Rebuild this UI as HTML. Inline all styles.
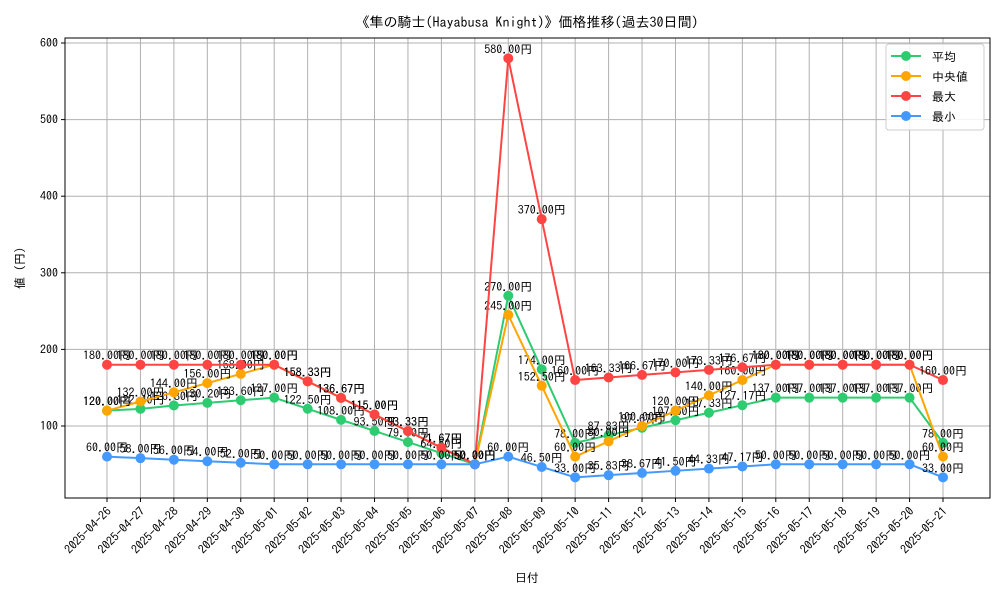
<!DOCTYPE html>
<html><head><meta charset="utf-8"><style>
body{margin:0;background:#fff;}
svg text{font-family:"IPAGothic","Noto Sans CJK JP",sans-serif;}
</style></head><body>
<svg id="chart" width="1000" height="600" viewBox="0 0 1000 600">
<rect width="1000" height="600" fill="#fff"/>
<text x="527" y="27" text-anchor="middle" font-size="14">《隼の騎士(Hayabusa Knight)》価格推移(過去30日間)</text>
<g id="grid"></g>
<rect x="65" y="38" width="925" height="460" fill="none" stroke="#000" stroke-width="1"/>
<g id="axes"></g>
<g id="series"></g>
<text x="527" y="582" text-anchor="middle" font-size="12">日付</text>
<text transform="translate(24,268) rotate(-90)" text-anchor="middle" font-size="12">値 (円)</text>
<g id="legend"></g>
</svg>
<script>
const dates=["2025-04-26","2025-04-27","2025-04-28","2025-04-29","2025-04-30","2025-05-01","2025-05-02","2025-05-03","2025-05-04","2025-05-05","2025-05-06","2025-05-07","2025-05-08","2025-05-09","2025-05-10","2025-05-11","2025-05-12","2025-05-13","2025-05-14","2025-05-15","2025-05-16","2025-05-17","2025-05-18","2025-05-19","2025-05-20","2025-05-21"];
const meanVals=[120,122.4,126.8,130.2,133.6,137,122.5,108,93.5,79,64.5,50,270,174,78,87.83,97.67,107.5,117.33,127.17,137,137,137,137,137,78];
const medianVals=[120,132,144,156,168,180,158.33,136.67,115,93.33,71.67,50,245,152.5,60,80,100,120,140,160,180,180,180,180,180,60];
const maxVals=[180,180,180,180,180,180,158.33,136.67,115,93.33,71.67,50,580,370,160,163.33,166.67,170,173.33,176.67,180,180,180,180,180,160];
const minVals=[60,58,56,54,52,50,50,50,50,50,50,50,60,46.5,33,35.83,38.67,41.5,44.33,47.17,50,50,50,50,50,33];
const yTicks=[100,200,300,400,500,600];
const seriesNames=["平均","中央値","最大","最小"];

const NS="http://www.w3.org/2000/svg";
function X(i){return 107+i*(943-107)/(dates.length-1);}
function Y(v){return 426-(v-100)*0.766;}
function mk(tag,attrs,parent){const e=document.createElementNS(NS,tag);for(const k in attrs)e.setAttribute(k,attrs[k]);parent.appendChild(e);return e;}
const grid=document.getElementById('grid'),axes=document.getElementById('axes'),ser=document.getElementById('series'),leg=document.getElementById('legend');
yTicks.forEach(t=>{
  const l=mk('line',{x1:65,x2:990,y1:Y(t),y2:Y(t),stroke:'#b0b0b0','stroke-width':1},grid);
  
  
  mk('line',{x1:61,x2:65,y1:Y(t),y2:Y(t),stroke:'#000'},axes);
  const tx=mk('text',{x:58,y:Y(t)+4,'text-anchor':'end','font-size':12},axes);
  tx.textContent=t;
  
  
});
dates.forEach((d,i)=>{
  const l=mk('line',{x1:X(i),x2:X(i),y1:38,y2:498,stroke:'#b0b0b0','stroke-width':1},grid);
  
  
  mk('line',{x1:X(i),x2:X(i),y1:498,y2:502,stroke:'#000'},axes);
  const tx=mk('text',{transform:`translate(${X(i)+5},${512}) rotate(-45)`,'text-anchor':'end','font-size':12},axes);
  tx.textContent=d;
  
  
});
const colors=['#2ecc71','#ffa500','#ff4444','#4499ff'];
const all=[meanVals,medianVals,maxVals,minVals];
const keys=['mean','median','max','min'];
all.forEach((vals,s)=>{
  const g=mk('g',{},ser);
  
  
  const p=mk('polyline',{points:vals.map((v,i)=>X(i)+','+Y(v)).join(' '),fill:'none',stroke:colors[s],'stroke-width':2},g);
  
  
  vals.forEach((v,i)=>{
    const c=mk('circle',{cx:X(i),cy:Y(v),r:5,fill:colors[s]},g);
    
    
  });
  vals.forEach((v,i)=>{
    const t=mk('text',{x:X(i),y:Y(v)-5,'text-anchor':'middle','font-size':12},g);
    t.textContent=v.toFixed(2)+'円';
    
    
  });
});
mk('rect',{x:886,y:44,width:98,height:86,rx:3,fill:'#fff','fill-opacity':0.85,stroke:'#ccc'},leg);
seriesNames.forEach((n,s)=>{
  const y=56+s*20;
  const e=mk('g',{},leg);
  
  
  mk('line',{x1:891,x2:921,y1:y,y2:y,stroke:colors[s],'stroke-width':2},e);
  mk('circle',{cx:906,cy:y,r:5,fill:colors[s]},e);
  const t=mk('text',{x:932,y:y+5,'font-size':12},e);
  t.textContent=n;
});
</script>
</body></html>
